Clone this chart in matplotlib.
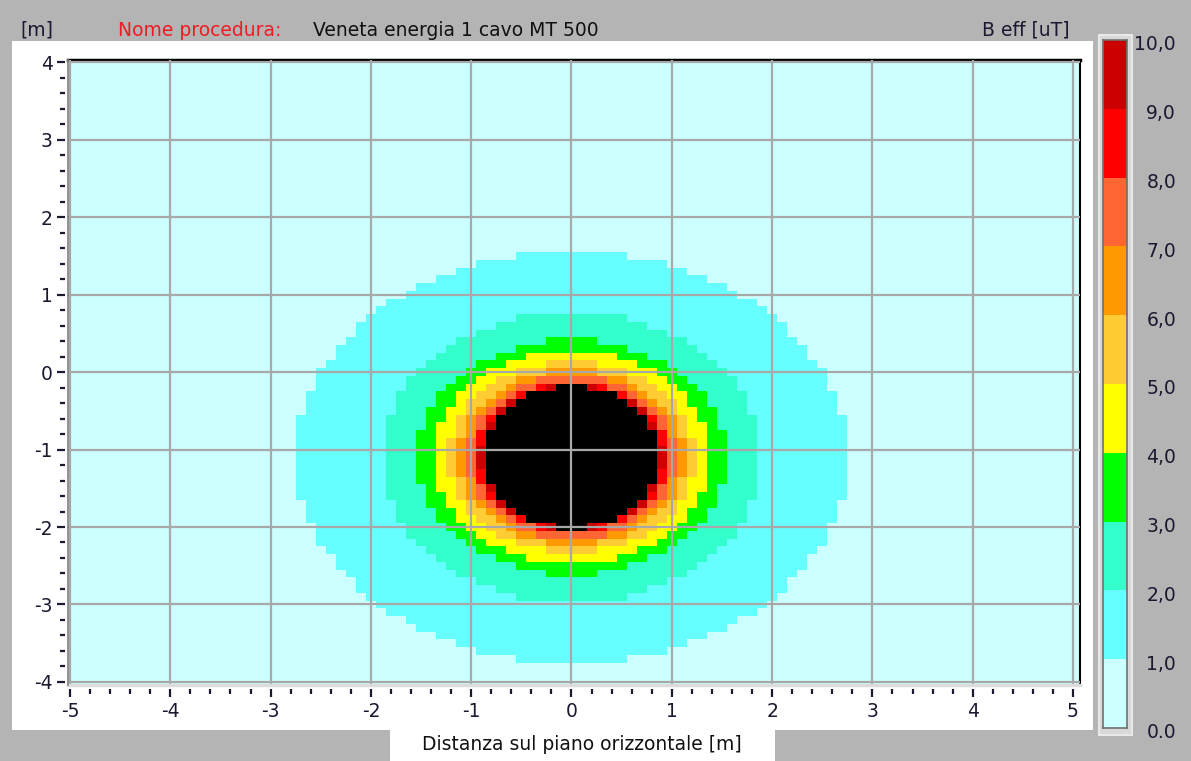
import numpy as np
import matplotlib
matplotlib.use("Agg")
from matplotlib import pyplot as plt
from matplotlib.colors import ListedColormap, BoundaryNorm
from matplotlib.patches import Rectangle
from matplotlib.ticker import MultipleLocator

# contour levels of B eff [uT] with horizontal / vertical half-widths (m) of each level
levels = [1.0, 2.0, 3.0, 4.0, 5.0, 6.0, 7.0, 8.0, 9.0, 10.0]
radii_x = [2.75, 1.90, 1.54, 1.38, 1.23, 1.13, 1.04, 0.96, 0.91, 0.86]
radii_y = [2.66, 1.87, 1.52, 1.38, 1.22, 1.13, 1.05, 0.99, 0.95, 0.92]
cable_x, cable_y = 0.0, -1.1

band_colors = ['#ccffff', '#66ffff', '#33ffcc', '#00ff00', '#ffff00',
               '#ffcc33', '#ff9900', '#ff6633', '#ff0000', '#cc0000']
over_color = '#000000'
cbar_labels = ['0.0', '1,0', '2,0', '3,0', '4,0', '5,0', '6,0', '7,0', '8,0', '9,0', '10,0']
xticks = [-5, -4, -3, -2, -1, 0, 1, 2, 3, 4, 5]
yticks = [-4, -3, -2, -1, 0, 1, 2, 3, 4]

W, H = 1191, 761
txt = '#1c1830'
fs = 13.5
plt.rcParams['font.family'] = ['DejaVu Sans']

fig = plt.figure(figsize=(W / 100, H / 100), dpi=100, facecolor='#b4b4b4')

def fx(px):
    return px / W

def fy(py):
    return 1 - py / H

# white panels
fig.patches.append(Rectangle((fx(12), fy(730)), fx(1093 - 12), (730 - 41) / H,
                             transform=fig.transFigure, facecolor='white', edgecolor='none', zorder=-5))
fig.patches.append(Rectangle((fx(390), 0), fx(775 - 390), (H - 728) / H,
                             transform=fig.transFigure, facecolor='white', edgecolor='none', zorder=-5))

# 0.1 m grid of cells
xe = (np.arange(-51, 52) + 0.5) * 0.1
ye = (np.arange(-41, 42) + 0.5) * 0.1
xc = (xe[:-1] + xe[1:]) / 2
yc = (ye[:-1] + ye[1:]) / 2
X, Y = np.meshgrid(xc, yc)
cls = np.zeros_like(X)
for rx, ry in zip(radii_x, radii_y):
    cls += (((X - cable_x) / rx) ** 2 + ((Y - cable_y) / ry) ** 2 < 1)

cmap = ListedColormap(band_colors + [over_color])
norm = BoundaryNorm(np.arange(-0.5, 11.5, 1), cmap.N)

ax = fig.add_axes([fx(68), fy(685), fx(1080 - 68), (685 - 60) / H])
ax.pcolormesh(xe, ye, cls, cmap=cmap, norm=norm, shading='flat')
ax.set_xlim(-5.02, 5.07)
ax.set_ylim(-4.04, 4.03)
ax.set_xticks(xticks)
ax.set_yticks(yticks)
ax.xaxis.set_minor_locator(MultipleLocator(0.2))
ax.yaxis.set_minor_locator(MultipleLocator(0.2))
ax.grid(True, which='major', color='#a8a8a8', linewidth=1.6)
ax.set_axisbelow(False)
for gl in ax.get_xgridlines() + ax.get_ygridlines():
    gl.set_zorder(3)

ax.spines['bottom'].set_position(('outward', 3))
ax.spines['left'].set_position(('outward', 2))
ax.spines['bottom'].set_visible(False)
ax.spines['left'].set_visible(False)
ax.spines['top'].set_linewidth(2.5)
ax.spines['right'].set_linewidth(1.5)
ax.axhline(-4.04, color='#dcdcdc', linewidth=2.5, clip_on=False, zorder=4)
ax.axvline(-5.02, color='#808080', linewidth=1.2, clip_on=False, zorder=4)

ax.tick_params(which='major', direction='out', length=6, width=1.6, color=txt,
               labelsize=fs, labelcolor=txt, pad=3)
ax.tick_params(which='minor', direction='out', length=3.5, width=1.6, color=txt)
ax.set_xticklabels([str(v) for v in xticks])
ax.set_yticklabels([str(v) for v in yticks])

# header texts
fig.text(fx(20), fy(30), '[m]', fontsize=fs, color=txt, va='center', ha='left')
fig.text(fx(118), fy(30), 'Nome procedura:', fontsize=fs, color='#ee1c24', va='center', ha='left')
fig.text(fx(313), fy(30), 'Veneta energia 1 cavo MT 500', fontsize=fs, color='#111111', va='center', ha='left')
fig.text(fx(1070), fy(30), 'B eff [uT]', fontsize=fs, color=txt, va='center', ha='right')
fig.text(fx(582), fy(745), 'Distanza sul piano orizzontale [m]', fontsize=fs, color='#111111',
         va='center', ha='center')

# colour bar
fig.patches.append(Rectangle((fx(1099), fy(735)), fx(1132 - 1099), (735 - 35) / H,
                             transform=fig.transFigure, facecolor='#d8d8d8', edgecolor='#e8e8e8',
                             linewidth=1.5, zorder=1))
cax = fig.add_axes([fx(1103), fy(728), fx(1127 - 1103), (728 - 40) / H])
cax.set_zorder(2)
cax.pcolormesh([0, 1], np.arange(0, 11), np.arange(10).reshape(-1, 1),
               cmap=ListedColormap(band_colors), vmin=-0.5, vmax=9.5)
cax.set_xlim(0, 1)
cax.set_ylim(0, 10)
cax.set_xticks([])
cax.set_yticks([])
for s in cax.spines.values():
    s.set_color('#707070')
    s.set_linewidth(1.2)
for i, lab in enumerate(cbar_labels):
    fig.text(fx(1176), fy(728 - i * 68.8 + 5), lab, fontsize=fs, color=txt,
             ha='right', va='center')

fig.savefig('out.png', dpi=100, facecolor=fig.get_facecolor())
